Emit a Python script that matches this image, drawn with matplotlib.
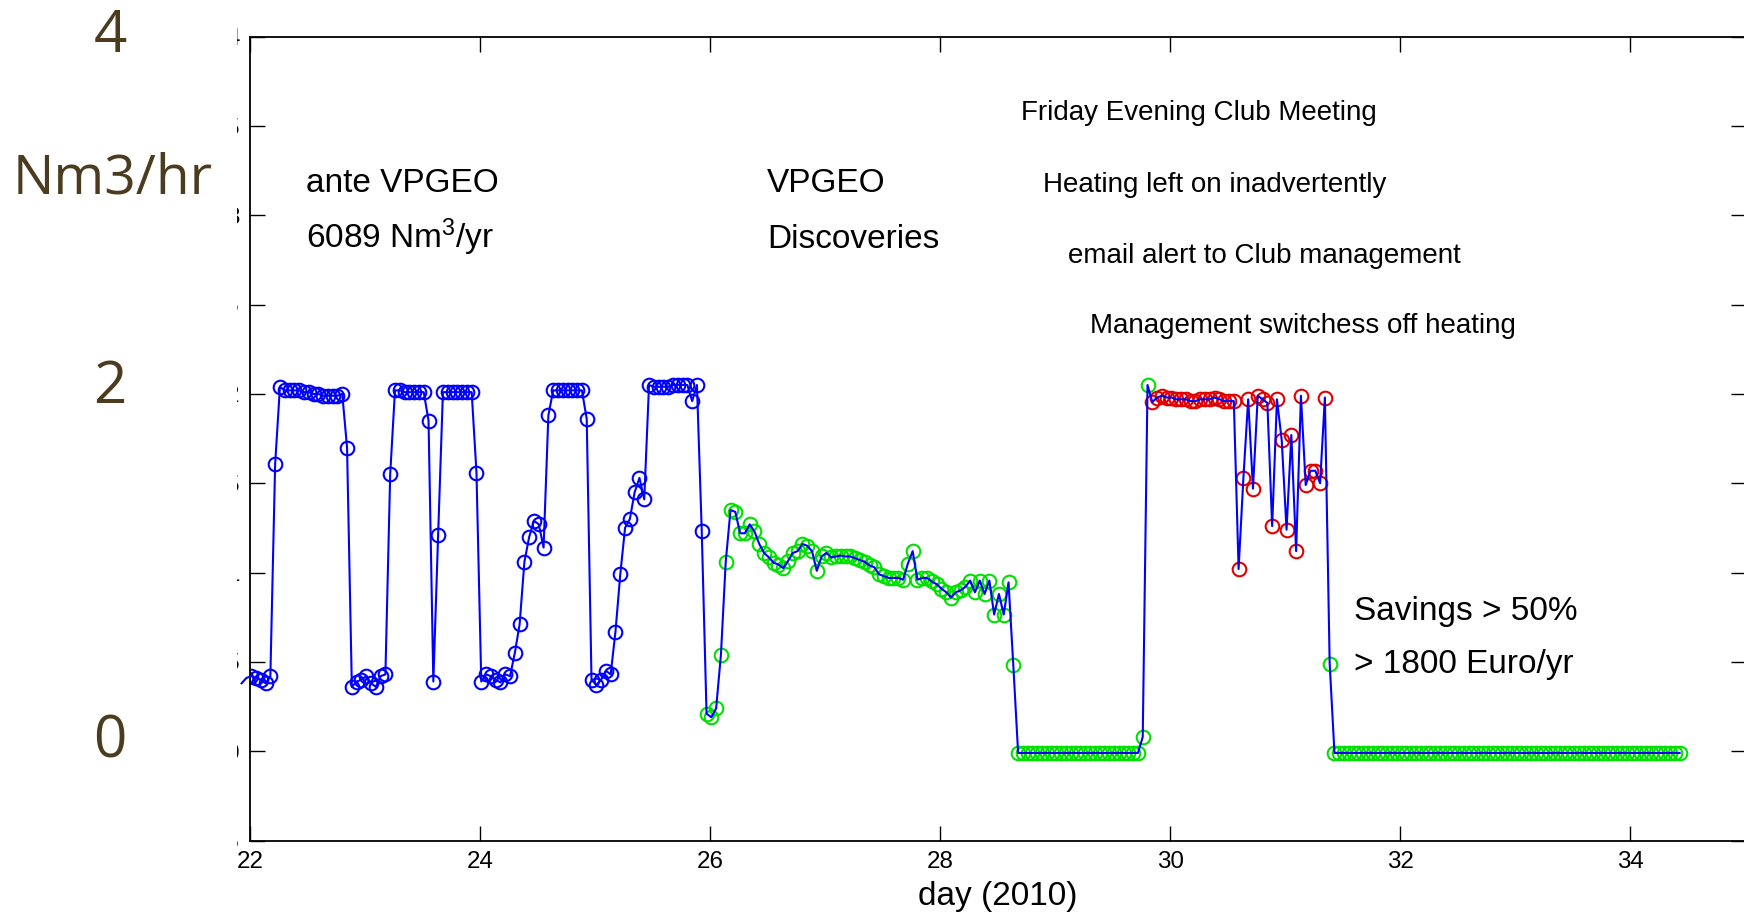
import matplotlib
matplotlib.use('Agg')
import matplotlib.pyplot as plt
import numpy as np
from matplotlib.patches import Rectangle

plt.rcParams['font.family'] = ['Liberation Sans', 'DejaVu Sans']
plt.rcParams['mathtext.fontset'] = 'custom'
plt.rcParams['mathtext.rm'] = 'Liberation Sans'
plt.rcParams['mathtext.it'] = 'Liberation Sans:italic'

# Gas flow (Nm3/hr), hourly readings, first reading at day 21.927 #

start_day = 21.927

flow_blue = [0.38, 0.41, 0.42, 0.41, 0.40, 0.38, 0.42, 1.61, 2.04,
             2.02, 2.02, 2.02, 2.02, 2.01, 2.01, 2.00, 2.00, 1.99, 1.99, 1.99, 1.99, 2.00,
             1.70, 0.36, 0.39, 0.40, 0.42, 0.38, 0.36, 0.42, 0.43, 1.55,
             2.02, 2.02, 2.01, 2.01, 2.01, 2.01, 2.01,
             1.85, 0.39, 1.21,
             2.01, 2.01, 2.01, 2.01, 2.01, 2.01, 2.01,
             1.56, 0.39, 0.43, 0.42, 0.40, 0.385, 0.43, 0.42, 0.55, 0.71, 1.06, 1.20, 1.29, 1.27, 1.14, 1.88,
             2.02, 2.02, 2.02, 2.02, 2.02, 2.02, 2.02,
             1.86, 0.40, 0.37, 0.40, 0.45, 0.43, 0.67, 0.99, 1.25, 1.30, 1.45, 1.53, 1.41, 2.05,
             2.04, 2.04, 2.04, 2.04, 2.05, 2.05, 2.05, 2.05,
             1.96, 2.05, 1.23]

flow_green1 = [0.21, 0.19, 0.24, 0.54, 1.06, 1.35, 1.34, 1.22, 1.22, 1.27, 1.23, 1.16,
               1.11, 1.085, 1.055, 1.045, 1.025, 1.065, 1.11, 1.12, 1.16, 1.15, 1.12, 1.01,
               1.09, 1.11, 1.085, 1.09, 1.095, 1.09, 1.09, 1.08, 1.07, 1.06, 1.04, 1.03,
               0.99, 0.98, 0.97, 0.97, 0.97, 0.96, 1.05, 1.12, 0.96, 0.97, 0.97, 0.95,
               0.935, 0.91, 0.89, 0.86, 0.89, 0.90, 0.92, 0.955, 0.89, 0.955, 0.88, 0.955,
               0.765, 0.88, 0.765, 0.945, 0.48,
               -0.01, -0.01, -0.01, -0.01, -0.01, -0.01, -0.01, -0.01, -0.01, -0.01,
               -0.01, -0.01, -0.01, -0.01, -0.01, -0.01, -0.01, -0.01, -0.01, -0.01,
               -0.01, -0.01, -0.01, -0.01, -0.01, -0.01,
               0.08, 2.05]

flow_red = [1.955,
            1.98, 1.99, 1.98, 1.98, 1.97, 1.97, 1.97, 1.96, 1.96, 1.97, 1.97, 1.97,
            1.98, 1.97, 1.96, 1.96, 1.96,
            1.02, 1.53, 1.97, 1.47, 1.99, 1.97, 1.95, 1.26, 1.97, 1.74, 1.24, 1.77,
            1.12, 1.99, 1.49, 1.57, 1.57, 1.50, 1.98]

flow_green2 = [0.49,
               -0.01, -0.01, -0.01, -0.01, -0.01, -0.01, -0.01, -0.01, -0.01, -0.01,
               -0.01, -0.01, -0.01, -0.01, -0.01, -0.01, -0.01, -0.01, -0.01, -0.01,
               -0.01, -0.01, -0.01, -0.01, -0.01, -0.01, -0.01, -0.01, -0.01, -0.01,
               -0.01, -0.01, -0.01, -0.01, -0.01, -0.01, -0.01, -0.01, -0.01, -0.01,
               -0.01, -0.01, -0.01, -0.01, -0.01, -0.01, -0.01, -0.01, -0.01, -0.01,
               -0.01, -0.01, -0.01, -0.01, -0.01, -0.01, -0.01, -0.01, -0.01, -0.01,
               -0.01, -0.01, -0.01, -0.01, -0.01, -0.01, -0.01, -0.01, -0.01, -0.01,
               -0.01, -0.01, -0.01]

x_ticks = [22, 24, 26, 28, 30, 32, 34]
y_ticks = [-0.5, 0, 0.5, 1, 1.5, 2, 2.5, 3, 3.5, 4]
y_tick_labels = ['-0.5', '0', '0.5', '1', '1.5', '2', '2.5', '3', '3.5', '4']
side_labels = ['4', '2', '0']

# Time base #

flow = np.array(flow_blue + flow_green1 + flow_red + flow_green2)
day = start_day + np.arange(len(flow)) / 24.0

n_b = len(flow_blue)
n_g1 = len(flow_green1)
n_r = len(flow_red)
seg_blue = slice(1, n_b)  # first reading lies left of the axis, no marker there
seg_green1 = slice(n_b, n_b + n_g1)
seg_red = slice(n_b + n_g1, n_b + n_g1 + n_r)
seg_green2 = slice(n_b + n_g1 + n_r, len(flow))

# Plotting #

W, H = 1744, 919
fig = plt.figure(figsize=(W / 100, H / 100), dpi=100)
ax = fig.add_axes([250 / W, (H - 840.5) / H, 1495.5 / W, 803.8 / H])

mk = dict(marker='o', linestyle='none', markersize=9.8, markerfacecolor='none', markeredgewidth=1.5)
ax.plot(day[seg_blue], flow[seg_blue], markeredgecolor='#0000ff', **mk)
ax.plot(day[seg_green1], flow[seg_green1], markeredgecolor='#00e000', **mk)
ax.plot(day[seg_red], flow[seg_red], markeredgecolor='#e00000', **mk)
ax.plot(day[seg_green2], flow[seg_green2], markeredgecolor='#00e000', **mk)
ax.plot(day, flow, color='#0000ff', linewidth=1.5, clip_on=False, zorder=3)

ax.set_xticks(x_ticks)
ax.set_yticks(y_ticks)
ax.set_yticklabels(y_tick_labels)
ax.set_xlim(22, 35)
ax.set_ylim(-0.5, 4)
ax.tick_params(direction='in', length=10.5, width=1.0, top=True, right=True, labelsize=17.4, pad=7.5)
for sp in ax.spines.values():
    sp.set_linewidth(1.3)
ax.set_xlabel('day (2010)', fontsize=24, labelpad=6)

# Annotations #

big = 24
small = 20
ax.text(22.487, 3.131, 'ante VPGEO', fontsize=big, va='baseline')
ax.text(22.487, 2.817, '6089 Nm$^3$/yr', fontsize=big, va='baseline')
ax.text(26.496, 3.131, 'VPGEO', fontsize=big, va='baseline')
ax.text(26.496, 2.817, 'Discoveries', fontsize=big, va='baseline')
ax.text(28.704, 3.534, 'Friday Evening Club Meeting', fontsize=small, va='baseline')
ax.text(28.896, 3.133, 'Heating left on inadvertently', fontsize=small, va='baseline')
ax.text(29.109, 2.733, 'email alert to Club management', fontsize=small, va='baseline')
ax.text(29.304, 2.342, 'Management switchess off heating', fontsize=small, va='baseline')
ax.text(31.6, 0.735, 'Savings > 50%', fontsize=big, va='baseline')
ax.text(31.6, 0.438, '> 1800 Euro/yr', fontsize=big, va='baseline')

# White band over the original y tick labels, with the slide's own labels on top #

fig.add_artist(Rectangle((0, 0), 237 / W, 1, transform=fig.transFigure,
                         facecolor='white', edgecolor='none', zorder=5))
brown = '#4b3b1f'
for lab, yb in zip(side_labels, [52, 403, 757]):
    fig.text(110 / W, 1 - yb / H, lab, fontsize=42, color=brown, ha='center', va='baseline',
             family=['Open Sans', 'DejaVu Sans'], zorder=6)
fig.text(13 / W, 1 - 193 / H, 'Nm3/hr', fontsize=39.5, color=brown, ha='left', va='baseline',
         family=['Open Sans', 'DejaVu Sans'], zorder=6)

fig.savefig('out.png', dpi=100)
